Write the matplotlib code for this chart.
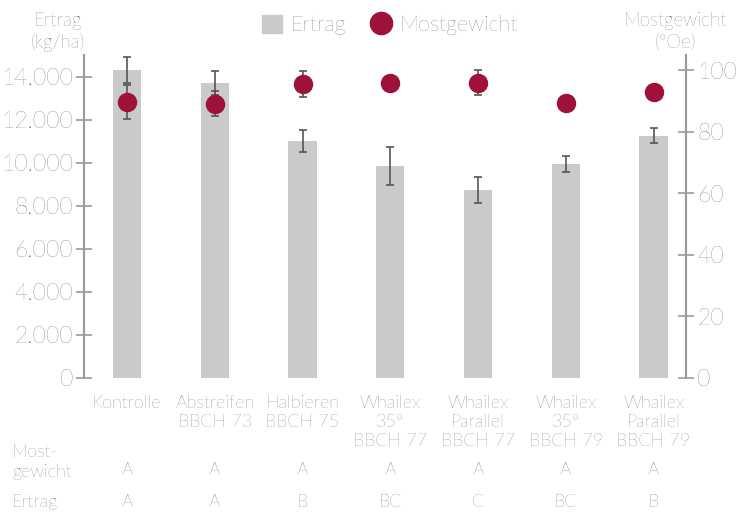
import matplotlib.pyplot as plt
from matplotlib.patches import Patch
from matplotlib.lines import Line2D

plt.rcParams['font.family'] = ['Lato', 'DejaVu Sans']
plt.rcParams['font.weight'] = 'light'

# Daten
kategorien = ['Kontrolle', 'Abstreifen\nBBCH 73', 'Halbieren\nBBCH 75',
              'Whailex\n35°\nBBCH 77', 'Whailex\nParallel\nBBCH 77',
              'Whailex\n35°\nBBCH 79', 'Whailex\nParallel\nBBCH 79']
ertrag = [14300, 13700, 11000, 9850, 8730, 9930, 11250]
ertrag_fehler = [620, 550, 510, 900, 620, 360, 340]
mostgewicht = [89.8, 89.2, 95.5, 95.8, 96.0, 89.5, 93.1]
most_fehler = [5.6, 4.0, 4.3, 2.0, 4.1, 2.0, 2.0]
sig_most = ['A', 'A', 'A', 'A', 'A', 'A', 'A']
sig_ertrag = ['A', 'A', 'B', 'BC', 'C', 'BC', 'B']
ticks_links = [0, 2000, 4000, 6000, 8000, 10000, 12000, 14000]
ticks_links_txt = ['0', '2.000', '4.000', '6.000', '8.000', '10.000', '12.000', '14.000']
ticks_rechts = [0, 20, 40, 60, 80, 100]

grau = '#c9cac9'
rot = '#9e1239'
achse = '#9a9a9a'
text = '#484848'
fehler = '#555555'

fig = plt.figure(figsize=(7.36, 5.12), dpi=100)
ax = fig.add_axes([84 / 736, 1 - 378 / 512, 602 / 736, 323 / 512])
ax2 = ax.twinx()

x = list(range(len(kategorien)))
ax.bar(x, ertrag, width=0.32, color=grau, zorder=1)
ax.errorbar(x, ertrag, yerr=ertrag_fehler, fmt='none', ecolor=fehler,
            elinewidth=1.2, capsize=3, capthick=1.2, zorder=3)
ax2.errorbar(x, mostgewicht, yerr=most_fehler, fmt='none', ecolor=fehler,
             elinewidth=1.2, capsize=3, capthick=1.2, zorder=2)
ax2.plot(x, mostgewicht, 'o', color=rot, markersize=13, zorder=4)

ax.set_xlim(-0.49, 6.37)
ax.set_ylim(0, 15000)
ax2.set_ylim(0, 105)

ax.set_yticks(ticks_links)
ax.set_yticklabels(ticks_links_txt)
ax2.set_yticks(ticks_rechts)

for a in (ax, ax2):
    a.spines['top'].set_visible(False)
    a.spines['bottom'].set_visible(False)
    for s in ('left', 'right'):
        a.spines[s].set_color(achse)
        a.spines[s].set_linewidth(1.5)
    a.tick_params(axis='y', direction='inout', length=12, width=1.2,
                  color=achse, pad=2)
    for lab in a.get_yticklabels():
        lab.set_fontsize(16.5)
        lab.set_color(text)
ax.spines['right'].set_visible(False)
ax2.spines['left'].set_visible(False)

ax.set_xticks(x)
ax.set_xticklabels(kategorien, fontsize=13, color=text, linespacing=1.25)
ax.tick_params(axis='x', length=0, pad=12)

# Achsentitel
fig.text(58 / 736, 1 - 32 / 512, 'Ertrag\n(kg/ha)', ha='center', va='center',
         fontsize=13.5, color=text, linespacing=1.25)
fig.text(675 / 736, 1 - 32 / 512, 'Mostgewicht\n(°Oe)', ha='center', va='center',
         fontsize=13.5, color=text, linespacing=1.25)

# Legende
handles = [Patch(color=grau, label='Ertrag'),
           Line2D([], [], marker='o', color=rot, linestyle='none', markersize=16,
                  label='Mostgewicht')]
leg = fig.legend(handles=handles, loc='center', bbox_to_anchor=(390 / 736, 1 - 25 / 512),
                 ncol=2, frameon=False, fontsize=15.5, handlelength=0.9, handleheight=0.9,
                 handletextpad=0.4, columnspacing=1.2)
for t in leg.get_texts():
    t.set_color(text)

# Signifikanzbuchstaben
fig.text(12 / 736, 1 - 462 / 512, 'Most-\ngewicht', ha='left', va='center',
         fontsize=13, color=text, linespacing=1.25)
fig.text(12 / 736, 1 - 502 / 512, 'Ertrag', ha='left', va='center', fontsize=13, color=text)
for i in x:
    xf = (84 + (i + 0.49) / 6.86 * 602) / 736
    fig.text(xf, 1 - 470 / 512, sig_most[i], ha='center', va='center', fontsize=13, color=text)
    fig.text(xf, 1 - 502 / 512, sig_ertrag[i], ha='center', va='center', fontsize=13, color=text)

fig.savefig('out.png', dpi=100)
